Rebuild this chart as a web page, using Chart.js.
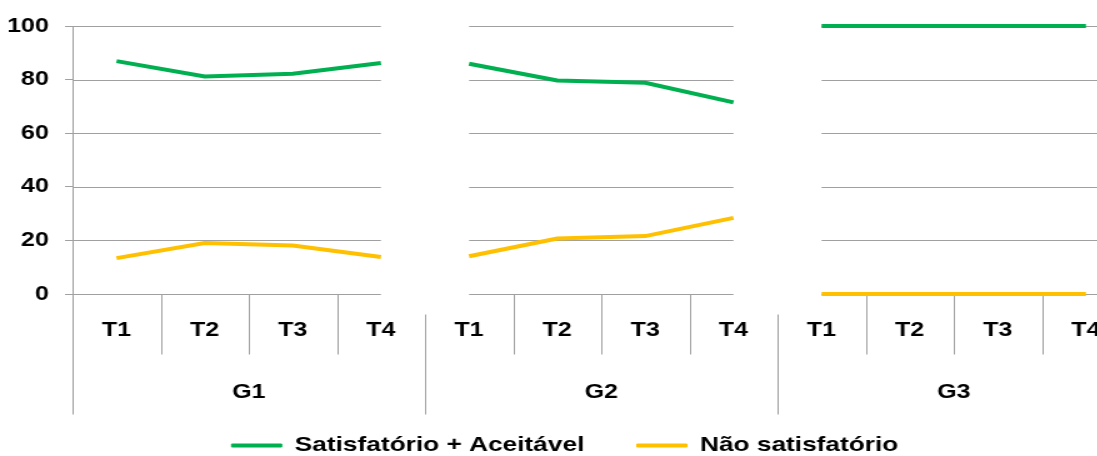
<!DOCTYPE html>
<html>
<head>
<meta charset="utf-8">
<script src="https://cdn.jsdelivr.net/npm/chart.js@4/dist/chart.umd.min.js"></script>
<style>
  html, body { margin: 0; padding: 0; background: #fff; overflow: hidden; width: 1097px; height: 456px; }
  /* the source picture is stretched sideways, so the chart is drawn narrower and widened */
  #wrap { width: 918px; height: 475px; transform: scaleX(1.25); transform-origin: 0 0; }
</style>
</head>
<body>
<div id="wrap"><canvas id="chart" width="918" height="475"></canvas></div>
<script>
const groups = ['G1', 'G2', 'G3'];
const periods = ['T1', 'T2', 'T3', 'T4'];
const categories = groups.flatMap(() => periods);

const satisfatorio = [86.9, 81.2, 82.2, 86.2, 85.9, 79.7, 78.8, 71.5, 100, 100, 100, 100];
const naoSatisfatorio = [13.4, 19.0, 18.1, 13.8, 14.1, 20.7, 21.6, 28.4, 0, 0, 0, 0];

const yTicks = { min: 0, max: 100, step: 20 };

const font = { family: '"Liberation Sans", Arial, sans-serif', size: 20, weight: 'bold' };
const legendFont = { family: '"Liberation Sans", Arial, sans-serif', size: 21, weight: 'bold' };
const gridColor = '#a0a0a0';

// no line between the last period of a group and the first of the next
const groupBreak = ctx => (ctx.p0DataIndex % periods.length === periods.length - 1) ? 'rgba(0,0,0,0)' : undefined;

const splitGrid = {
  id: 'splitGrid',
  afterLayout(chart) {
    // legend sits a little closer to the group labels than its padding allows
    chart.legend.top -= 9;
    chart.legend.bottom -= 9;
  },
  beforeDatasetsDraw(chart) {
    const { ctx, chartArea, scales: { x, y } } = chart;
    const half = (x.getPixelForValue(1) - x.getPixelForValue(0)) / 2;
    const bottom = Math.round(chartArea.bottom) + 0.5;
    const line = (x0, y0, x1, y1) => { ctx.beginPath(); ctx.moveTo(x0, y0); ctx.lineTo(x1, y1); ctx.stroke(); };
    ctx.save();
    ctx.strokeStyle = gridColor;
    ctx.lineWidth = 1;
    groups.forEach((g, gi) => {
      const x0 = gi === 0 ? chartArea.left : x.getPixelForValue(gi * periods.length);
      const x1 = gi === groups.length - 1 ? chartArea.right : x.getPixelForValue(gi * periods.length + periods.length - 1);
      y.ticks.forEach(t => {
        const py = Math.round(y.getPixelForValue(t.value)) + 0.5;
        line(x0, py, x1, py);
      });
    });
    for (let i = 1; i < categories.length; i++) {
      const px = Math.round(x.getPixelForValue(i) - half) + 0.5;
      if (i % periods.length) line(px, bottom, px, bottom + 60);
      else line(px, bottom + 20, px, bottom + 120);
    }
    const ax = Math.round(chartArea.left) + 0.5;
    line(ax, bottom, ax, bottom + 120);
    ctx.restore();
  }
};

new Chart(document.getElementById('chart'), {
  type: 'line',
  data: {
    labels: categories,
    datasets: [
      {
        label: 'Satisfatório + Aceitável',
        data: satisfatorio,
        borderColor: '#00b050',
        backgroundColor: '#00b050',
        borderWidth: 4,
        pointRadius: 0,
        tension: 0,
        clip: false,
        segment: { borderColor: groupBreak }
      },
      {
        label: 'Não satisfatório',
        data: naoSatisfatorio,
        borderColor: '#ffc000',
        backgroundColor: '#ffc000',
        borderWidth: 4,
        pointRadius: 0,
        tension: 0,
        clip: false,
        segment: { borderColor: groupBreak }
      }
    ]
  },
  options: {
    responsive: false,
    animation: false,
    layout: { padding: { top: 26, right: 14, left: 0, bottom: 0 } },
    plugins: {
      tooltip: { enabled: false },
      legend: {
        position: 'bottom',
        labels: {
          font: legendFont,
          color: '#000',
          boxWidth: 40,
          boxHeight: 3,
          padding: 42,
          generateLabels: chart => chart.data.datasets.map((ds, i) => ({
            text: ds.label,
            fillStyle: ds.borderColor,
            strokeStyle: ds.borderColor,
            lineWidth: 1,
            fontColor: '#000',
            hidden: false,
            datasetIndex: i
          }))
        }
      }
    },
    scales: {
      x: {
        type: 'category',
        offset: true,
        grid: { display: false },
        border: { display: false },
        ticks: { font: font, color: '#000', padding: 16, autoSkip: false, maxRotation: 0 },
        afterFit: s => { s.height = 48; }
      },
      x2: {
        type: 'category',
        labels: groups,
        position: 'bottom',
        weight: 1,
        offset: true,
        grid: { display: false },
        border: { display: false },
        ticks: { font: font, color: '#000', padding: 30, autoSkip: false, maxRotation: 0 },
        afterFit: s => { s.height = 60; }
      },
      y: {
        min: yTicks.min,
        max: yTicks.max,
        ticks: { stepSize: yTicks.step, font: font, color: '#000', padding: 13 },
        grid: { drawOnChartArea: false, drawTicks: true, tickLength: 6, color: gridColor },
        border: { display: true, color: gridColor, width: 1 },
        afterFit: s => { s.width = 58; }
      }
    }
  },
  plugins: [splitGrid]
});
</script>
</body>
</html>
